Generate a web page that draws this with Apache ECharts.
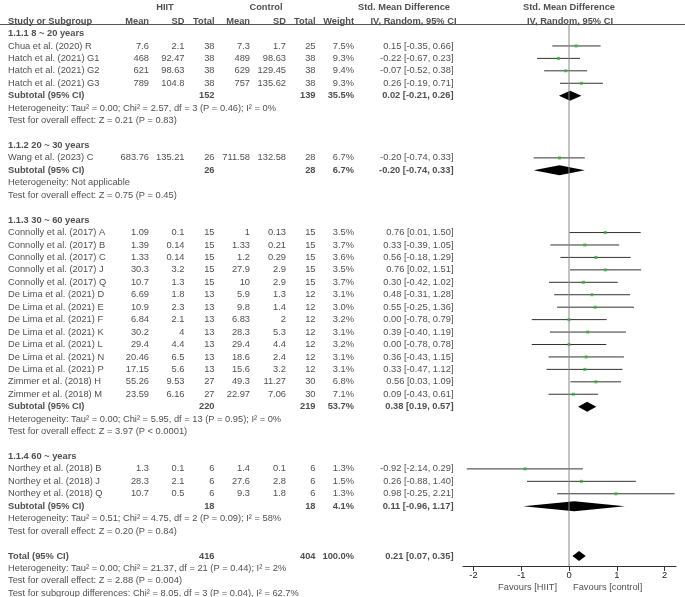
<!DOCTYPE html>
<html><head><meta charset="utf-8">
<script src="https://cdn.jsdelivr.net/npm/echarts@6/dist/echarts.min.js"></script>
<style>html,body{margin:0;padding:0;background:#fff}#c{width:685px;height:597px}</style>
</head><body><div id="c"></div>
<script>
// ---------- data ----------
const groupLabels = ['1.1.1 8 ~ 20 years','1.1.2 20 ~ 30 years','1.1.3 30 ~ 60 years','1.1.4 60 ~ years'];
const groupSizes = [4,1,14,3];
const studyNames = ['Chua et al. (2020) R','Hatch et al. (2021) G1','Hatch et al. (2021) G2','Hatch et al. (2021) G3',
 'Wang et al. (2023) C',
 'Connolly et al. (2017) A','Connolly et al. (2017) B','Connolly et al. (2017) C','Connolly et al. (2017) J','Connolly et al. (2017) Q',
 'De Lima et al. (2021) D','De Lima et al. (2021) E','De Lima et al. (2021) F','De Lima et al. (2021) K','De Lima et al. (2021) L',
 'De Lima et al. (2021) N','De Lima et al. (2021) P','Zimmer et al. (2018) H','Zimmer et al. (2018) M',
 'Northey et al. (2018) B','Northey et al. (2018) J','Northey et al. (2018) Q'];
const hiitMean = [7.6,468,621,789,683.76,1.09,1.39,1.33,30.3,10.7,6.69,10.9,6.84,30.2,29.4,20.46,17.15,55.26,23.59,1.3,28.3,10.7];
const hiitSD   = [2.1,92.47,98.63,104.8,135.21,0.1,0.14,0.14,3.2,1.3,1.8,2.3,2.1,4,4.4,6.5,5.6,9.53,6.16,0.1,2.1,0.5];
const hiitN    = [38,38,38,38,26,15,15,15,15,15,13,13,13,13,13,13,13,27,27,6,6,6];
const ctrlMean = [7.3,489,629,757,711.58,1,1.33,1.2,27.9,10,5.9,9.8,6.83,28.3,29.4,18.6,15.6,49.3,22.97,1.4,27.6,9.3];
const ctrlSD   = [1.7,98.63,129.45,135.62,132.58,0.13,0.21,0.29,2.9,2.9,1.3,1.4,2,5.3,4.4,2.4,3.2,11.27,7.06,0.1,2.8,1.8];
const ctrlN    = [25,38,38,38,28,15,15,15,15,15,12,12,12,12,12,12,12,30,30,6,6,6];
const weights  = [7.5,9.3,9.4,9.3,6.7,3.5,3.7,3.6,3.5,3.7,3.1,3.0,3.2,3.1,3.2,3.1,3.1,6.8,7.1,1.3,1.5,1.3];
const smd      = [0.15,-0.22,-0.07,0.26,-0.20,0.76,0.33,0.56,0.76,0.30,0.48,0.55,0.00,0.39,0.00,0.36,0.33,0.56,0.09,-0.92,0.26,0.98];
const ciLo     = [-0.35,-0.67,-0.52,-0.19,-0.74,0.01,-0.39,-0.18,0.02,-0.42,-0.31,-0.25,-0.78,-0.40,-0.78,-0.43,-0.47,0.03,-0.43,-2.14,-0.88,-0.25];
const ciHi     = [0.66,0.23,0.38,0.71,0.33,1.50,1.05,1.29,1.51,1.02,1.28,1.36,0.79,1.19,0.78,1.15,1.12,1.09,0.61,0.29,1.40,2.21];
const subHiitN = [152,26,220,18];
const subCtrlN = [139,28,219,18];
const subWeight= [35.5,6.7,53.7,4.1];
const subSmd   = [0.02,-0.20,0.38,0.11];
const subLo    = [-0.21,-0.74,0.19,-0.96];
const subHi    = [0.26,0.33,0.57,1.17];
const hetTexts = ['Heterogeneity: Tau² = 0.00; Chi² = 2.57, df = 3 (P = 0.46); I² = 0%',
 'Heterogeneity: Not applicable',
 'Heterogeneity: Tau² = 0.00; Chi² = 5.95, df = 13 (P = 0.95); I² = 0%',
 'Heterogeneity: Tau² = 0.51; Chi² = 4.75, df = 2 (P = 0.09); I² = 58%'];
const testTexts = ['Test for overall effect: Z = 0.21 (P = 0.83)','Test for overall effect: Z = 0.75 (P = 0.45)',
 'Test for overall effect: Z = 3.97 (P < 0.0001)','Test for overall effect: Z = 0.20 (P = 0.84)'];
const totalHiitN = 416, totalCtrlN = 404, totalWeight = 100.0;
const totalSmd = 0.21, totalLo = 0.07, totalHi = 0.35;
const totalTexts = ['Heterogeneity: Tau² = 0.00; Chi² = 21.37, df = 21 (P = 0.44); I² = 2%',
 'Test for overall effect: Z = 2.88 (P = 0.004)',
 'Test for subgroup differences: Chi² = 8.05, df = 3 (P = 0.04), I² = 62.7%'];
const xTicks = [-2,-1,0,1,2];

// ---------- layout ----------
const ROW0 = 33.5, ROWH = 12.44, H = 597, AXY = 566;
const rowOf = px => (px - ROW0) / ROWH;
const col = {label:8, hm:149, hs:184.5, hn:214.5, cm:250, cs:286, cn:315.5, w:354, ci:453.5};
const FONT = 'Liberation Sans, Arial, sans-serif';
const FS = 9.3, TC = '#222';

const T = {leftN:[], leftB:[], rightN:[], rightB:[], centerB:[]};
const add = (k, x, r, s) => T[k].push({name: String(s), value:[x, r]});
const ciStr = (e,l,h) => e.toFixed(2)+' ['+l.toFixed(2)+', '+h.toFixed(2)+']';

const ciLines = [], markers = [], diamonds = [];

// headers
const rh1 = rowOf(7.5), rh2 = rowOf(21);
add('centerB', 165, rh1, 'HIIT');
add('centerB', 266, rh1, 'Control');
add('centerB', 404, rh1, 'Std. Mean Difference');
add('centerB', 569, rh1, 'Std. Mean Difference');
add('leftB', col.label, rh2, 'Study or Subgroup');
add('rightB', col.hm, rh2, 'Mean'); add('rightB', col.hs, rh2, 'SD'); add('rightB', col.hn, rh2, 'Total');
add('rightB', col.cm, rh2, 'Mean'); add('rightB', col.cs, rh2, 'SD'); add('rightB', col.cn, rh2, 'Total');
add('rightB', col.w, rh2, 'Weight');
add('centerB', 413.5, rh2, 'IV, Random, 95% CI');
add('centerB', 570, rh2, 'IV, Random, 95% CI');

let r = 0, k = 0;
groupLabels.forEach((g, gi) => {
  add('leftB', col.label, r, g); r++;
  for (let j = 0; j < groupSizes[gi]; j++, k++, r++) {
    add('leftN', col.label, r, studyNames[k]);
    add('rightN', col.hm, r, hiitMean[k]); add('rightN', col.hs, r, hiitSD[k]); add('rightN', col.hn, r, hiitN[k]);
    add('rightN', col.cm, r, ctrlMean[k]); add('rightN', col.cs, r, ctrlSD[k]); add('rightN', col.cn, r, ctrlN[k]);
    add('rightN', col.w, r, weights[k].toFixed(1)+'%');
    add('rightN', col.ci, r, ciStr(smd[k], ciLo[k], ciHi[k]));
    ciLines.push([ciLo[k], ciHi[k], r]);
    markers.push([smd[k], r]);
  }
  add('leftB', col.label, r, 'Subtotal (95% CI)');
  add('rightB', col.hn, r, subHiitN[gi]); add('rightB', col.cn, r, subCtrlN[gi]);
  add('rightB', col.w, r, subWeight[gi].toFixed(1)+'%');
  add('rightB', col.ci, r, ciStr(subSmd[gi], subLo[gi], subHi[gi]));
  diamonds.push([r, subSmd[gi], subLo[gi], subHi[gi]]);
  r++;
  add('leftN', col.label, r, hetTexts[gi]); r++;
  add('leftN', col.label, r, testTexts[gi]); r++;
  r++;
});
add('leftB', col.label, r, 'Total (95% CI)');
add('rightB', col.hn, r, totalHiitN); add('rightB', col.cn, r, totalCtrlN);
add('rightB', col.w, r, totalWeight.toFixed(1)+'%');
add('rightB', col.ci, r, ciStr(totalSmd, totalLo, totalHi));
diamonds.push([r, totalSmd, totalLo, totalHi]);
r++;
totalTexts.forEach(t => { add('leftN', col.label, r, t); r++; });

const rFav = rowOf(587);
T.rightN.push({name:'Favours [HIIT]', value:[557, rFav]});
T.leftN.push({name:'Favours [control]', value:[573, rFav]});

function textSeries(data, align, bold) {
  return {
    type:'scatter', xAxisIndex:0, yAxisIndex:0, symbolSize:0, silent:true, data,
    label:{show:true, position:[0,0], align, verticalAlign:'middle', formatter:p=>p.name,
      fontFamily:FONT, fontSize:FS, color:TC, fontWeight: bold ? 'bold' : 'normal'}
  };
}

const headerLineR = rowOf(24.5);
const chart = echarts.init(document.getElementById('c'), null, {renderer:'canvas'});
chart.setOption({
  animation:false,
  backgroundColor:'#fff',
  grid:[
    {left:0, top:0, width:685, height:H},
    {left:463, top:0, width:213, height:AXY}
  ],
  xAxis:[
    {type:'value', gridIndex:0, min:0, max:685, show:false},
    {type:'value', gridIndex:1, min:-2.22, max:2.24, position:'bottom', splitLine:{show:false},
     axisLine:{onZero:false, lineStyle:{color:'#333', width:1}},
     axisTick:{show:true, length:5, customValues:xTicks, lineStyle:{color:'#333'}},
     axisLabel:{customValues:xTicks, margin:5, fontFamily:FONT, fontSize:FS, color:TC}}
  ],
  yAxis:[
    {type:'value', gridIndex:0, inverse:true, min:rowOf(0), max:rowOf(H), show:false},
    {type:'value', gridIndex:1, inverse:true, min:rowOf(0), max:rowOf(AXY), show:false}
  ],
  series:[
    textSeries(T.leftN,'left',false),
    textSeries(T.leftB,'left',true),
    textSeries(T.rightN,'right',false),
    textSeries(T.rightB,'right',true),
    textSeries(T.centerB,'center',true),
    {type:'line', xAxisIndex:0, yAxisIndex:0, symbol:'none', silent:true,
     data:[[0, headerLineR],[685, headerLineR]], lineStyle:{color:'#555', width:1}},
    {type:'line', xAxisIndex:1, yAxisIndex:1, symbol:'none', silent:true,
     data:[[0, headerLineR],[0, rowOf(AXY)]], lineStyle:{color:'#888', width:1}},
    {type:'custom', xAxisIndex:1, yAxisIndex:1, silent:true, data:ciLines,
     renderItem:(p, api) => {
       const a = api.coord([api.value(0), api.value(2)]);
       const b = api.coord([api.value(1), api.value(2)]);
       return {type:'line', shape:{x1:a[0], y1:a[1], x2:b[0], y2:b[1]}, style:{stroke:'#333', lineWidth:1}};
     }},
    {type:'scatter', xAxisIndex:1, yAxisIndex:1, silent:true, symbol:'rect', symbolSize:3,
     data:markers, itemStyle:{color:'#2db52d'}},
    {type:'custom', xAxisIndex:1, yAxisIndex:1, silent:true, data:diamonds,
     renderItem:(p, api) => {
       const rr = api.value(0);
       const c = api.coord([api.value(1), rr]);
       const l = api.coord([api.value(2), rr]);
       const h = api.coord([api.value(3), rr]);
       return {type:'polygon', shape:{points:[[l[0], c[1]],[c[0], c[1]-5],[h[0], c[1]],[c[0], c[1]+5]]},
         style:{fill:'#000'}};
     }}
  ]
});
</script></body></html>
